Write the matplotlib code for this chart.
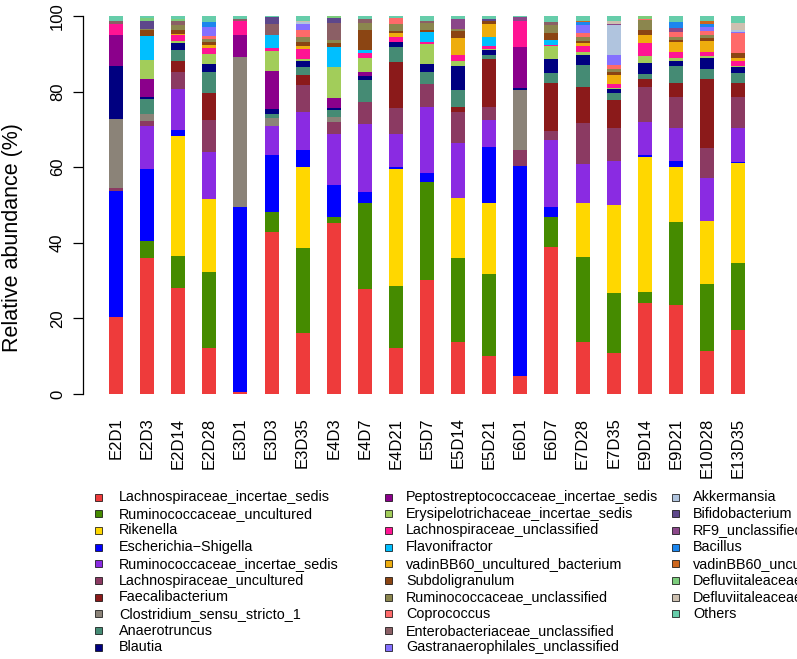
import matplotlib
matplotlib.use("Agg")
import matplotlib.pyplot as plt
from matplotlib.patches import Rectangle
import numpy as np

plt.rcParams.update({"font.family": ["Liberation Sans", "DejaVu Sans"]})

# muestras (eje x)
samples = ["E2D1", "E2D3", "E2D14", "E2D28", "E3D1", "E3D3", "E3D35", "E4D3", "E4D7",
           "E4D21", "E5D7", "E5D14", "E5D21", "E6D1", "E6D7", "E7D28", "E7D35", "E9D14",
           "E9D21", "E10D28", "E13D35"]

# abundancia relativa (%) por taxón, mismo orden que samples
lachno_is = [20.3, 35.9, 28.0, 12.1, 0.6, 42.8, 16.1, 45.2, 27.7, 12.3, 30.2, 13.8, 10.1, 4.8, 39.0, 13.8, 10.8, 24.2, 23.5, 11.5, 16.8]
rumino_unc = [0, 4.6, 8.6, 20.2, 0, 5.3, 22.4, 1.5, 22.9, 16.3, 26.0, 22.3, 21.6, 0, 7.7, 22.4, 16.0, 2.9, 22.1, 17.6, 17.9]
rikenella = [0, 0, 31.7, 19.2, 0, 0, 21.5, 0, 0, 30.8, 0, 15.7, 18.9, 0, 0, 14.2, 23.2, 35.7, 14.4, 16.7, 26.5]
escherichia = [33.5, 19.0, 1.5, 0, 49.0, 15.1, 4.6, 8.6, 2.9, 0.6, 2.3, 0, 14.8, 55.6, 2.7, 0, 0, 0.4, 1.6, 0, 0.3]
rumino_is = [0, 11.5, 10.8, 12.4, 0, 7.7, 10.1, 13.5, 17.9, 8.7, 17.3, 14.5, 7.1, 0, 17.8, 10.4, 11.7, 8.7, 8.7, 11.4, 9.0]
lachno_unc = [0.6, 1.3, 4.6, 8.6, 0, 0, 7.0, 3.2, 5.9, 6.9, 6.1, 8.4, 3.5, 4.2, 2.4, 10.8, 8.6, 9.2, 8.4, 7.8, 8.2]
faecali = [0, 0, 3.0, 7.0, 0, 0, 2.7, 0, 0, 12.3, 0, 1.1, 12.6, 0, 12.8, 9.5, 7.6, 2.2, 3.7, 18.3, 3.5]
clostridium = [18.3, 1.8, 0, 0, 39.6, 2.0, 0, 1.4, 0, 0, 0, 0, 0, 15.8, 0, 0, 0, 0, 0, 0, 0]
anaerotruncus = [0, 4.0, 2.8, 5.8, 0, 1.2, 2.2, 1.7, 5.8, 3.8, 3.4, 4.6, 1.2, 0, 2.6, 5.9, 1.6, 1.3, 4.5, 2.7, 2.6]
blautia = [14.2, 0.6, 1.9, 1.9, 0, 1.2, 1.5, 0.5, 0.9, 1.3, 1.9, 6.4, 1.1, 0.6, 3.6, 2.7, 1.1, 3.0, 1.2, 3.0, 1.8]
pepto = [8.1, 4.6, 0, 0, 5.9, 10.1, 0, 2.8, 1.1, 0, 0, 0, 0, 10.9, 0, 0, 0, 0, 0, 0, 0]
erysipelo = [0, 5.1, 0.5, 2.7, 0, 5.4, 0.5, 8.0, 3.9, 0.2, 5.3, 1.3, 0.4, 0, 3.5, 0.7, 0.4, 1.8, 0.7, 0.5, 0.3]
lachno_uncl = [2.8, 0, 1.6, 1.7, 3.7, 0.8, 2.6, 0, 1.1, 1.3, 0.7, 1.6, 0.7, 6.9, 0.3, 1.7, 1.1, 3.5, 1.6, 0.9, 1.3]
flavonifractor = [0, 6.3, 0, 0, 0, 3.5, 0, 5.5, 0.9, 0, 2.5, 0, 2.5, 0, 1.3, 0, 0, 0, 0, 0, 0]
vadin_bact = [0, 0, 0.3, 0.8, 0, 0, 0.9, 0, 0, 0.9, 0, 4.6, 3.5, 0, 0, 0.7, 2.2, 2.0, 2.6, 3.1, 0.6]
subdoli = [0, 1.6, 1.0, 0.7, 0, 0, 0.9, 0.9, 5.3, 0.7, 0.6, 1.6, 0.7, 0, 1.8, 0.7, 0.8, 1.5, 0.6, 0.6, 1.3]
rumino_uncl = [0, 0.3, 1.4, 0.9, 0, 0, 1.5, 0.9, 1.9, 1.8, 1.8, 0.7, 0, 0, 2.0, 0.9, 1.0, 2.5, 0.9, 0.9, 0]
coprococcus = [0, 0, 0, 0.7, 0, 0, 1.8, 0, 0, 1.5, 0, 0, 0, 0, 0, 1.1, 0.9, 0.4, 1.3, 0.9, 5.3]
entero_uncl = [0.8, 0, 0.9, 0, 0.3, 2.9, 0, 4.5, 0.9, 0, 0.7, 0, 0, 0, 0.9, 0, 0, 0, 0, 0, 0]
gastran = [0, 0, 0, 2.5, 0, 0, 1.5, 0, 0, 0, 0, 0, 0, 0, 0, 2.2, 2.6, 0, 0, 1.3, 0.4]
akkermansia = [0, 0, 0, 0, 0, 0, 0.5, 0, 0, 0, 0, 0, 0, 0, 0, 0, 7.9, 0, 0, 0, 0.5]
bifido = [0, 2.1, 0, 0, 0, 1.7, 0, 1.4, 0, 0, 0, 0, 0.5, 0, 0, 0, 0, 0, 0, 0, 0]
rf9 = [0, 0, 0, 0, 0, 0, 0, 0, 0, 0, 0, 2.6, 0, 0.9, 0, 0, 0.5, 0, 1.1, 0, 0]
bacillus = [0, 0, 0, 1.3, 0, 0, 0, 0, 0, 0, 0, 0, 0, 0, 0, 0.6, 0, 0, 1.6, 0.7, 0]
vadin_unc = [0, 0, 0, 0, 0, 0, 0, 0, 0, 0, 0, 0, 0, 0, 0, 0.5, 0, 0, 0, 0.9, 0]
defluvi_is = [0, 0.8, 0.5, 0, 0, 0, 0, 0.3, 0, 0, 0, 0, 0, 0, 0, 0, 0, 0.7, 0, 0, 0]
defluvi_ucg = [0, 0, 0, 0, 0, 0, 0.5, 0, 0, 0, 0, 0, 0, 0, 0, 0, 0.6, 0, 0, 0, 1.8]
others = [1.4, 0.5, 0.9, 1.5, 0.9, 0.3, 1.2, 0.1, 0.9, 0.6, 1.2, 0.8, 0.8, 0.3, 1.6, 1.2, 1.4, 0.0, 1.5, 1.2, 1.9]

taxa = ["Lachnospiraceae_incertae_sedis", "Ruminococcaceae_uncultured", "Rikenella",
        "Escherichia\u2212Shigella", "Ruminococcaceae_incertae_sedis", "Lachnospiraceae_uncultured",
        "Faecalibacterium", "Clostridium_sensu_stricto_1", "Anaerotruncus", "Blautia",
        "Peptostreptococcaceae_incertae_sedis", "Erysipelotrichaceae_incertae_sedis",
        "Lachnospiraceae_unclassified", "Flavonifractor", "vadinBB60_uncultured_bacterium",
        "Subdoligranulum", "Ruminococcaceae_unclassified", "Coprococcus",
        "Enterobacteriaceae_unclassified", "Gastranaerophilales_unclassified",
        "Akkermansia", "Bifidobacterium", "RF9_unclassified", "Bacillus",
        "vadinBB60_uncultured", "Defluviitaleaceae_incertae_sedis", "Defluviitaleaceae_UCG-011",
        "Others"]

colors = ["#EE3B3B", "#458B00", "#FFD700", "#0000FF", "#8A2BE2", "#8B3A62", "#8B1A1A",
          "#8B8378", "#458B74", "#000080", "#8B008B", "#A2CD5A", "#FF1493", "#00BFFF",
          "#EEAD0E", "#8B4513", "#8B864E", "#FF6A6A", "#8B5F65", "#8470FF",
          "#B0C4DE", "#5D478B", "#8B4789", "#1C86EE", "#CD661D", "#7CCD7C", "#CDC0B0",
          "#66CDAA"]

abundance = [lachno_is, rumino_unc, rikenella, escherichia, rumino_is, lachno_unc, faecali,
             clostridium, anaerotruncus, blautia, pepto, erysipelo, lachno_uncl, flavonifractor,
             vadin_bact, subdoli, rumino_uncl, coprococcus, entero_uncl, gastran, akkermansia,
             bifido, rf9, bacillus, vadin_unc, defluvi_is, defluvi_ucg, others]

W, H = 797, 659
fig = plt.figure(figsize=(W / 100, H / 100), dpi=100)
ax = fig.add_axes([83 / W, 1 - 394 / H, 688 / W, 378 / H])

x = np.arange(len(samples))
bottom = np.zeros(len(samples))
for vals, c in zip(abundance, colors):
    ax.bar(x, vals, 0.45, bottom=bottom, color=c, linewidth=0)
    bottom += np.array(vals)

ax.set_xlim(-1.061, 21.06)
ax.set_ylim(0, 100)
for s in ["top", "right", "bottom"]:
    ax.spines[s].set_visible(False)
ax.spines["left"].set_bounds(0, 100)
ax.spines["left"].set_linewidth(0.9)

ax.set_yticks([0, 20, 40, 60, 80, 100])
ax.tick_params(axis="y", length=7, width=0.9, pad=6, labelsize=12)
for lab in ax.get_yticklabels():
    lab.set_rotation(90)
    lab.set_va("center")

ax.set_xticks(x)
ax.set_xticklabels(samples, rotation=90, fontsize=12)
ax.tick_params(axis="x", length=0, pad=17)

fig.text(13 / W, 1 - 238 / H, "Relative abundance (%)", rotation=90,
         ha="center", va="center", fontsize=15.5)

# leyenda en 3 columnas (estilo R)
sq_x = [98, 388, 675]
tx_x = [119, 406, 693]
for i, (name, c) in enumerate(zip(taxa, colors)):
    col, row = i // 10, i % 10
    y = 497 + row * 16.7
    fig.add_artist(Rectangle(((sq_x[col] - 3.5) / W, 1 - (y + 3.5) / H), 7 / W, 7 / H,
                             transform=fig.transFigure, fc=c, ec="black", lw=0.5))
    fig.text(tx_x[col] / W, 1 - y / H, name, ha="left", va="center", fontsize=10.4)

fig.savefig("out.png", dpi=100)
